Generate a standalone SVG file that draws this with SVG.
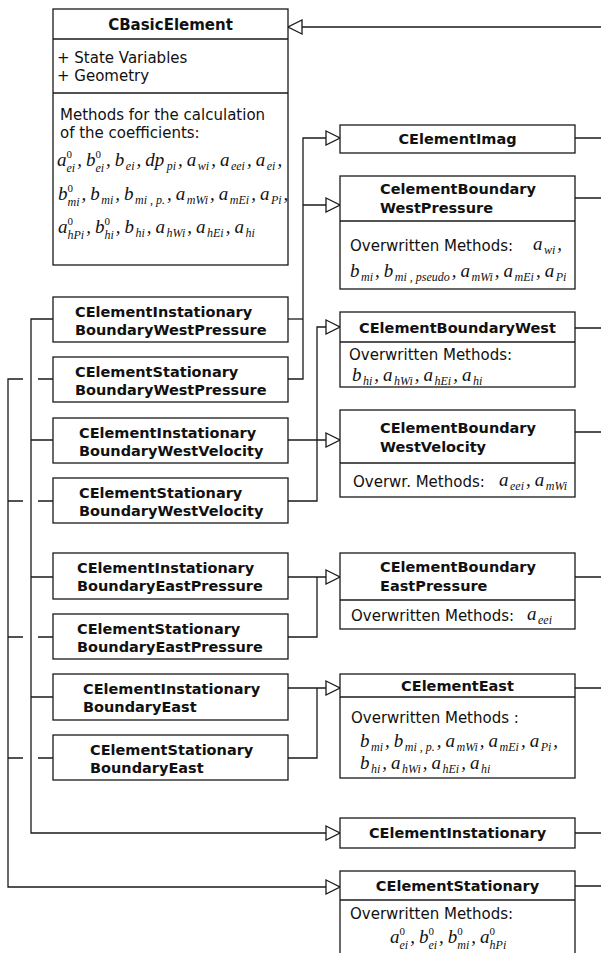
<svg xmlns="http://www.w3.org/2000/svg" width="601" height="953" viewBox="0 0 601 953">
<style>
.box{fill:#fff;stroke:#1a1a1a;stroke-width:1.3}
.ln{fill:none;stroke:#1a1a1a;stroke-width:1.3}
.h{font-family:"DejaVu Sans",sans-serif;font-weight:bold;font-size:14.5px;fill:#111}
.hc{text-anchor:middle}
.t{font-family:"DejaVu Sans",sans-serif;font-size:15px;fill:#111}
.m{font-family:"Liberation Serif",serif;font-style:italic;font-size:19px;fill:#111}
.s{font-size:12px}
.z{font-size:11px;font-style:normal}
</style>
<defs>
<marker id="tri" viewBox="0 0 16 16" refX="15" refY="8" markerWidth="16" markerHeight="16" markerUnits="userSpaceOnUse" orient="auto">
<path d="M1,1 L15,8 L1,15 Z" fill="#fff" stroke="#1a1a1a" stroke-width="1.3"/>
</marker>
</defs>
<rect width="601" height="953" fill="#fff"/>

<g id="connectors">
<path class="ln" d="M601,27 H288" marker-end="url(#tri)"/>
<path class="ln" d="M288,319 H303"/>
<path class="ln" d="M288,379 H303 V138 H340" marker-end="url(#tri)"/>
<path class="ln" d="M303,205 H340" marker-end="url(#tri)"/>
<path class="ln" d="M288,440 H340" marker-end="url(#tri)"/>
<path class="ln" d="M288,501 H317 V327 H340" marker-end="url(#tri)"/>
<path class="ln" d="M288,577 H340" marker-end="url(#tri)"/>
<path class="ln" d="M288,637 H317 V577"/>
<path class="ln" d="M288,688 H340" marker-end="url(#tri)"/>
<path class="ln" d="M288,758 H317 V688"/>
<path class="ln" d="M53,319 H31 V833 H340" marker-end="url(#tri)"/>
<path class="ln" d="M31,440 H53 M31,577 H53 M31,697 H53"/>
<path class="ln" d="M23,379 H8 V887 H340" marker-end="url(#tri)"/>
<path class="ln" d="M38,379 H53 M8,501 H23 M38,501 H53 M8,637 H23 M38,637 H53 M8,758 H23 M38,758 H53"/>
<path class="ln" d="M575,138 H601 M575,198 H601 M575,328 H601 M575,432 H601 M575,577 H601 M575,688 H601 M575,833 H601 M575,886 H601"/>
</g>

<g id="CBasicElement">
<rect class="box" x="53" y="9" width="235" height="256"/>
<path class="ln" d="M53,39 H288 M53,93 H288"/>
<text class="h hc" x="170.5" y="30" style="font-size:15px">CBasicElement</text>
<text class="t" x="57" y="63">+ State Variables</text>
<text class="t" x="57" y="81">+ Geometry</text>
<text class="t" x="60" y="120">Methods for the calculation</text>
<text class="t" x="60" y="138">of the coefficients:</text>
<text class="m" x="57" y="166"><tspan>a</tspan><tspan class="z" dy="-8">0</tspan><tspan class="s" dx="-5.5" dy="13.5">ei</tspan><tspan dx="2" dy="-5.5">,</tspan><tspan dx="4">b</tspan><tspan class="z" dy="-8">0</tspan><tspan class="s" dx="-5.5" dy="13.5">ei</tspan><tspan dx="2" dy="-5.5">,</tspan><tspan dx="4">b</tspan><tspan class="s" dx="1.5" dy="4">ei</tspan><tspan dx="2" dy="-4">,</tspan><tspan dx="4">dp</tspan><tspan class="s" dx="2.5" dy="4">pi</tspan><tspan dx="2" dy="-4">,</tspan><tspan dx="4">a</tspan><tspan class="s" dx="1.5" dy="4">wi</tspan><tspan dx="2" dy="-4">,</tspan><tspan dx="4">a</tspan><tspan class="s" dx="1.5" dy="4">eei</tspan><tspan dx="2" dy="-4">,</tspan><tspan dx="4">a</tspan><tspan class="s" dx="1.5" dy="4">ei</tspan><tspan dx="2" dy="-4">,</tspan></text>
<text class="m" x="58" y="200"><tspan>b</tspan><tspan class="z" dy="-8">0</tspan><tspan class="s" dx="-5.5" dy="13.5">mi</tspan><tspan dx="2" dy="-5.5">,</tspan><tspan dx="4">b</tspan><tspan class="s" dx="1.5" dy="4">mi</tspan><tspan dx="2" dy="-4">,</tspan><tspan dx="4">b</tspan><tspan class="s" dx="1.5" dy="4">mi , p.</tspan><tspan dx="2" dy="-4">,</tspan><tspan dx="4">a</tspan><tspan class="s" dx="1.5" dy="4">mWi</tspan><tspan dx="2" dy="-4">,</tspan><tspan dx="4">a</tspan><tspan class="s" dx="1.5" dy="4">mEi</tspan><tspan dx="2" dy="-4">,</tspan><tspan dx="4">a</tspan><tspan class="s" dx="1.5" dy="4">Pi</tspan><tspan dx="2" dy="-4">,</tspan></text>
<text class="m" x="58" y="233"><tspan>a</tspan><tspan class="z" dy="-8">0</tspan><tspan class="s" dx="-5.5" dy="13.5">hPi</tspan><tspan dx="2" dy="-5.5">,</tspan><tspan dx="4">b</tspan><tspan class="z" dy="-8">0</tspan><tspan class="s" dx="-5.5" dy="13.5">hi</tspan><tspan dx="2" dy="-5.5">,</tspan><tspan dx="4">b</tspan><tspan class="s" dx="1.5" dy="4">hi</tspan><tspan dx="2" dy="-4">,</tspan><tspan dx="4">a</tspan><tspan class="s" dx="1.5" dy="4">hWi</tspan><tspan dx="2" dy="-4">,</tspan><tspan dx="4">a</tspan><tspan class="s" dx="1.5" dy="4">hEi</tspan><tspan dx="2" dy="-4">,</tspan><tspan dx="4">a</tspan><tspan class="s" dx="1.5" dy="4">hi</tspan></text>
</g>

<g id="CElementImag">
<rect class="box" x="340" y="125" width="235" height="28"/>
<text class="h hc" x="457.5" y="144">CElementImag</text>
</g>

<g id="CElementBoundaryWestPressure">
<rect class="box" x="340" y="176" width="235" height="113"/>
<path class="ln" d="M340,221 H575"/>
<text class="h" x="380" y="194">CelementBoundary</text>
<text class="h" x="380" y="213">WestPressure</text>
<text class="t" x="350" y="251">Overwritten Methods:</text>
<text class="m" x="533" y="250"><tspan>a</tspan><tspan class="s" dx="1.5" dy="4">wi</tspan><tspan dx="2" dy="-4">,</tspan></text>
<text class="m" x="350" y="277"><tspan>b</tspan><tspan class="s" dx="1.5" dy="4">mi</tspan><tspan dx="2" dy="-4">,</tspan><tspan dx="4">b</tspan><tspan class="s" dx="1.5" dy="4">mi , pseudo</tspan><tspan dx="2" dy="-4">,</tspan><tspan dx="4">a</tspan><tspan class="s" dx="1.5" dy="4">mWi</tspan><tspan dx="2" dy="-4">,</tspan><tspan dx="4">a</tspan><tspan class="s" dx="1.5" dy="4">mEi</tspan><tspan dx="2" dy="-4">,</tspan><tspan dx="4">a</tspan><tspan class="s" dx="1.5" dy="4">Pi</tspan></text>
</g>

<g id="CElementBoundaryWest">
<rect class="box" x="340" y="312" width="235" height="75"/>
<path class="ln" d="M340,342 H575"/>
<text class="h hc" x="457.5" y="333">CElementBoundaryWest</text>
<text class="t" x="349" y="360">Overwritten Methods:</text>
<text class="m" x="352" y="381"><tspan>b</tspan><tspan class="s" dx="1.5" dy="4">hi</tspan><tspan dx="2" dy="-4">,</tspan><tspan dx="4">a</tspan><tspan class="s" dx="1.5" dy="4">hWi</tspan><tspan dx="2" dy="-4">,</tspan><tspan dx="4">a</tspan><tspan class="s" dx="1.5" dy="4">hEi</tspan><tspan dx="2" dy="-4">,</tspan><tspan dx="4">a</tspan><tspan class="s" dx="1.5" dy="4">hi</tspan></text>
</g>

<g id="CElementBoundaryWestVelocity">
<rect class="box" x="340" y="410" width="235" height="87"/>
<path class="ln" d="M340,463 H575"/>
<text class="h" x="380" y="433">CElementBoundary</text>
<text class="h" x="380" y="452">WestVelocity</text>
<text class="t" x="353" y="487">Overwr. Methods:</text>
<text class="m" x="499" y="486"><tspan>a</tspan><tspan class="s" dx="1.5" dy="4">eei</tspan><tspan dx="2" dy="-4">,</tspan><tspan dx="4">a</tspan><tspan class="s" dx="1.5" dy="4">mWi</tspan></text>
</g>

<g id="CElementBoundaryEastPressure">
<rect class="box" x="340" y="553" width="235" height="76"/>
<path class="ln" d="M340,600 H575"/>
<text class="h" x="380" y="572">CElementBoundary</text>
<text class="h" x="380" y="591">EastPressure</text>
<text class="t" x="351" y="621">Overwritten Methods:</text>
<text class="m" x="527" y="620"><tspan>a</tspan><tspan class="s" dx="1.5" dy="4">eei</tspan></text>
</g>

<g id="CElementEast">
<rect class="box" x="340" y="674" width="235" height="104"/>
<path class="ln" d="M340,697 H575"/>
<text class="h hc" x="457.5" y="691">CElementEast</text>
<text class="t" x="351" y="723">Overwritten Methods :</text>
<text class="m" x="360" y="747"><tspan>b</tspan><tspan class="s" dx="1.5" dy="4">mi</tspan><tspan dx="2" dy="-4">,</tspan><tspan dx="4">b</tspan><tspan class="s" dx="1.5" dy="4">mi , p.</tspan><tspan dx="2" dy="-4">,</tspan><tspan dx="4">a</tspan><tspan class="s" dx="1.5" dy="4">mWi</tspan><tspan dx="2" dy="-4">,</tspan><tspan dx="4">a</tspan><tspan class="s" dx="1.5" dy="4">mEi</tspan><tspan dx="2" dy="-4">,</tspan><tspan dx="4">a</tspan><tspan class="s" dx="1.5" dy="4">Pi</tspan><tspan dx="2" dy="-4">,</tspan></text>
<text class="m" x="360" y="769"><tspan>b</tspan><tspan class="s" dx="1.5" dy="4">hi</tspan><tspan dx="2" dy="-4">,</tspan><tspan dx="4">a</tspan><tspan class="s" dx="1.5" dy="4">hWi</tspan><tspan dx="2" dy="-4">,</tspan><tspan dx="4">a</tspan><tspan class="s" dx="1.5" dy="4">hEi</tspan><tspan dx="2" dy="-4">,</tspan><tspan dx="4">a</tspan><tspan class="s" dx="1.5" dy="4">hi</tspan></text>
</g>

<g id="CElementInstationary">
<rect class="box" x="340" y="818" width="235" height="30"/>
<text class="h hc" x="457.5" y="838">CElementInstationary</text>
</g>

<g id="CElementStationary">
<rect class="box" x="340" y="871" width="235" height="110"/>
<path class="ln" d="M340,900 H575"/>
<text class="h hc" x="457.5" y="891">CElementStationary</text>
<text class="t" x="350" y="919">Overwritten Methods:</text>
<text class="m" x="390" y="943"><tspan>a</tspan><tspan class="z" dy="-8">0</tspan><tspan class="s" dx="-5.5" dy="13.5">ei</tspan><tspan dx="2" dy="-5.5">,</tspan><tspan dx="4">b</tspan><tspan class="z" dy="-8">0</tspan><tspan class="s" dx="-5.5" dy="13.5">ei</tspan><tspan dx="2" dy="-5.5">,</tspan><tspan dx="4">b</tspan><tspan class="z" dy="-8">0</tspan><tspan class="s" dx="-5.5" dy="13.5">mi</tspan><tspan dx="2" dy="-5.5">,</tspan><tspan dx="4">a</tspan><tspan class="z" dy="-8">0</tspan><tspan class="s" dx="-5.5" dy="13.5">hPi</tspan></text>
</g>

<g id="CElementInstationaryBoundaryWestPressure">
<rect class="box" x="53" y="297" width="235" height="45"/>
<text class="h" x="75" y="317">CElementInstationary</text>
<text class="h" x="75" y="335">BoundaryWestPressure</text>
</g>
<g id="CElementStationaryBoundaryWestPressure">
<rect class="box" x="53" y="357" width="235" height="45"/>
<text class="h" x="75" y="377">CElementStationary</text>
<text class="h" x="75" y="395">BoundaryWestPressure</text>
</g>
<g id="CElementInstationaryBoundaryWestVelocity">
<rect class="box" x="53" y="418" width="235" height="45"/>
<text class="h" x="79" y="438">CElementInstationary</text>
<text class="h" x="79" y="456">BoundaryWestVelocity</text>
</g>
<g id="CElementStationaryBoundaryWestVelocity">
<rect class="box" x="53" y="478" width="235" height="45"/>
<text class="h" x="79" y="498">CElementStationary</text>
<text class="h" x="79" y="516">BoundaryWestVelocity</text>
</g>
<g id="CElementInstationaryBoundaryEastPressure">
<rect class="box" x="53" y="553" width="235" height="46"/>
<text class="h" x="77" y="573">CElementInstationary</text>
<text class="h" x="77" y="591">BoundaryEastPressure</text>
</g>
<g id="CElementStationaryBoundaryEastPressure">
<rect class="box" x="53" y="614" width="235" height="45"/>
<text class="h" x="77" y="634">CElementStationary</text>
<text class="h" x="77" y="652">BoundaryEastPressure</text>
</g>
<g id="CElementInstationaryBoundaryEast">
<rect class="box" x="53" y="674" width="235" height="46"/>
<text class="h" x="83" y="694">CElementInstationary</text>
<text class="h" x="83" y="712">BoundaryEast</text>
</g>
<g id="CElementStationaryBoundaryEast">
<rect class="box" x="53" y="735" width="235" height="45"/>
<text class="h" x="90" y="755">CElementStationary</text>
<text class="h" x="90" y="773">BoundaryEast</text>
</g>
</svg>
